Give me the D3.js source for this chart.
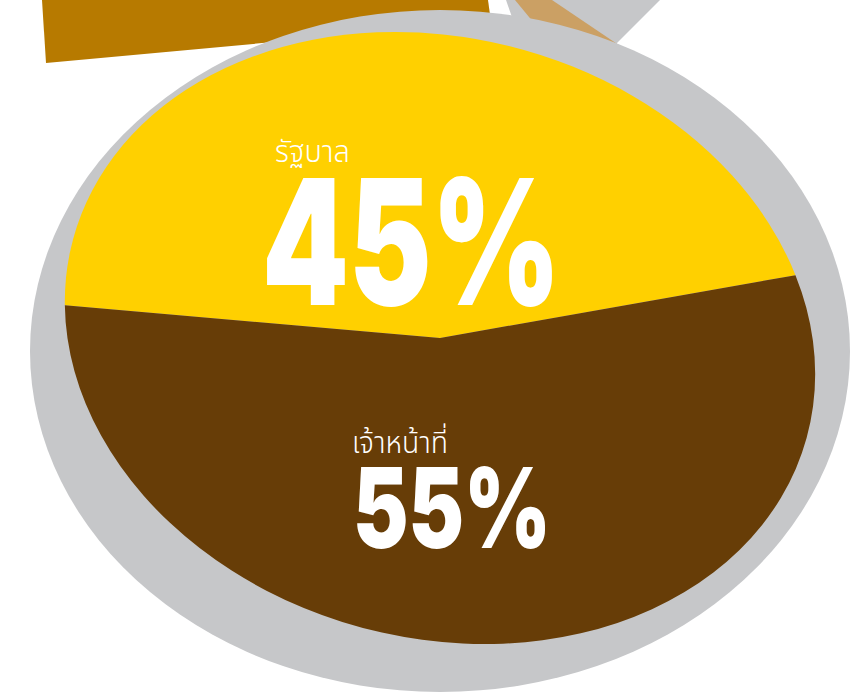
<!DOCTYPE html>
<html><head><meta charset="utf-8">
<script src="https://cdn.jsdelivr.net/npm/d3@7"></script>
<style>html,body{margin:0;padding:0;background:#fff;overflow:hidden}</style>
</head><body>
<svg id="c" width="852" height="692"></svg>
<script>
const categories = ["รัฐบาล", "เจ้าหน้าที่"];
const values = [45, 55];
const valueLabels = ["45%", "55%"];
const colors = ["#FFD000", "#673D07"];

const svg = d3.select("#c");

// decorative ribbon shapes behind the medal
const ribbonGold = [[42,0],[488,0],[491,22],[46,63]];
const ribbonGray = [[506,0],[660,0],[600,60],[520,40]];
const ribbonTan = [[515,0],[552,0],[632,54],[548,40]];
const line = d3.line();
svg.append("path").attr("d", line(ribbonGold) + "Z").attr("fill", "#B77A00");
svg.append("path").attr("d", line(ribbonGray) + "Z").attr("fill", "#C6C7C9");
svg.append("path").attr("d", line(ribbonTan) + "Z").attr("fill", "#CBA064");

// gray rim
svg.append("ellipse").attr("cx", 440).attr("cy", 351).attr("rx", 410).attr("ry", 341).attr("fill", "#C6C7C9");

// pie in tilted perspective
const R = 300;
const start = 257.4 * Math.PI / 180;
const pie = d3.pie().sort(null).value(d => d).startAngle(start).endAngle(start + 2 * Math.PI);
const arc = d3.arc().innerRadius(0).outerRadius(R);
const g = svg.append("g").attr("transform", `translate(440,338) rotate(15) scale(${380 / R},1)`);
g.selectAll("path").data(pie(values)).join("path")
  .attr("d", arc)
  .attr("fill", (d, i) => colors[i]);

// labels
const thaiFont = "'Noto Sans Thai','Noto Sans Thai Looped','Loma','Garuda','Noto Sans',sans-serif";
const numFont = "Inter,'Liberation Sans',sans-serif";
const labelPos = [
  {cx: 275, cy: 162, csize: 30, cw: 75, nx: 262, ny: 305, nsize: 174, nw: 299},
  {cx: 352, cy: 453, csize: 30, cw: 96, nx: 353, ny: 548, nsize: 111, nw: 198}
];
categories.forEach((c, i) => {
  const p = labelPos[i];
  svg.append("text").attr("x", p.cx).attr("y", p.cy)
    .attr("font-family", thaiFont).attr("font-weight", 300).attr("font-size", p.csize)
    .attr("fill", "#fff").attr("textLength", p.cw).attr("lengthAdjust", "spacingAndGlyphs")
    .text(c);
  svg.append("text").attr("x", p.nx).attr("y", p.ny)
    .attr("font-family", numFont).attr("font-weight", 900).attr("font-size", p.nsize)
    .attr("fill", "#fff").attr("textLength", p.nw).attr("lengthAdjust", "spacingAndGlyphs")
    .text(valueLabels[i]);
});
</script>
</body></html>
